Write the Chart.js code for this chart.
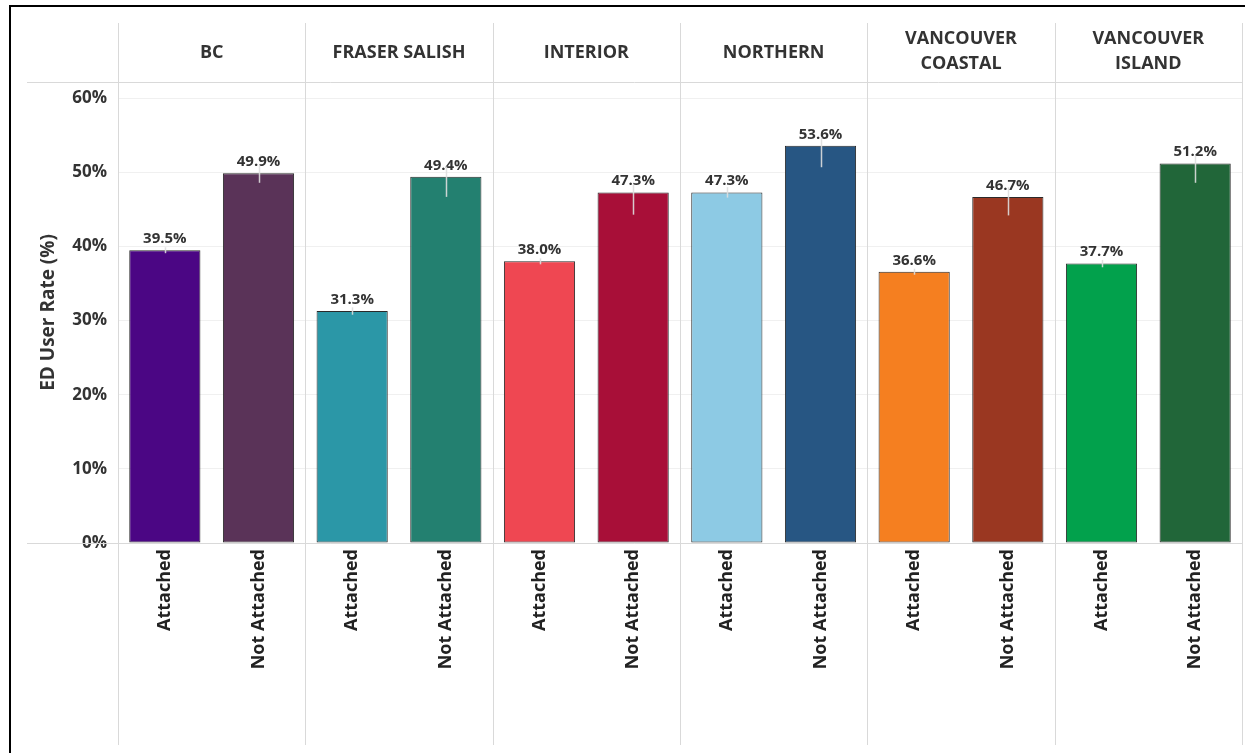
<!DOCTYPE html>
<html>
<head>
<meta charset="utf-8">
<script src="https://cdn.jsdelivr.net/npm/chart.js@4.4.1/dist/chart.umd.min.js"></script>
<style>
  html, body { margin: 0; padding: 0; background: #ffffff; }
  #wrap { position: relative; width: 1245px; height: 753px; }
</style>
</head>
<body>
<div id="wrap"><canvas id="chart"></canvas></div>
<script>
// Health authority panels (header lines) and attachment status within each panel
const regions = [['BC'], ['FRASER SALISH'], ['INTERIOR'], ['NORTHERN'], ['VANCOUVER', 'COASTAL'], ['VANCOUVER', 'ISLAND']];
const statuses = ['Attached', 'Not Attached'];

// ED user rate (%) by region
const attachedRate    = [39.5, 31.3, 38.0, 47.3, 36.6, 37.7];
const notAttachedRate = [49.9, 49.4, 47.3, 53.6, 46.7, 51.2];

// Confidence interval bounds (%)
const attachedLow     = [39.1, 30.8, 37.6, 46.6, 36.2, 37.2];
const attachedHigh    = [39.9, 31.8, 38.4, 48.0, 37.0, 38.2];
const notAttachedLow  = [48.6, 46.7, 44.3, 50.7, 44.2, 48.6];
const notAttachedHigh = [51.0, 50.8, 48.4, 54.8, 48.0, 52.3];

// Bar fills per region
const attachedColors    = ['#4b0684', '#2b97a7', '#ef4752', '#8dcae4', '#f57f20', '#02a14c'];
const notAttachedColors = ['#5a3358', '#238070', '#a80f38', '#275683', '#9a3721', '#216639'];

const yTicks = [0, 10, 20, 30, 40, 50, 60];

// Interleave the two statuses per region for the category axis
const labels = [], values = [], lows = [], highs = [], colors = [];
regions.forEach((r, i) => {
  labels.push(statuses[0], statuses[1]);
  values.push(attachedRate[i], notAttachedRate[i]);
  lows.push(attachedLow[i], notAttachedLow[i]);
  highs.push(attachedHigh[i], notAttachedHigh[i]);
  colors.push(attachedColors[i], notAttachedColors[i]);
});

const TEXT = '#333333';
const FONT = "'Open Sans', 'Noto Sans', sans-serif";

// Panel separators, header strip and rules
const panelDecor = {
  id: 'panelDecor',
  beforeDatasetsDraw(chart) {
    const { ctx, chartArea: a, scales: { x } } = chart;
    const catW = x.getPixelForValue(1) - x.getPixelForValue(0);
    const edge = g => x.getPixelForValue(g * 2) - catW / 2;
    ctx.save();
    ctx.strokeStyle = '#d9d9d9';
    ctx.lineWidth = 1;
    [a.top, a.bottom].forEach(y => {
      ctx.beginPath();
      ctx.moveTo(27, Math.round(y) + 0.5);
      ctx.lineTo(a.right, Math.round(y) + 0.5);
      ctx.stroke();
    });
    for (let g = 0; g <= regions.length; g++) {
      const px = Math.round(edge(g)) + 0.5;
      ctx.beginPath();
      ctx.moveTo(px, 23);
      ctx.lineTo(px, 745);
      ctx.stroke();
    }
    ctx.fillStyle = TEXT;
    ctx.font = "bold 18px " + FONT;
    ctx.textAlign = 'center';
    ctx.textBaseline = 'middle';
    regions.forEach((lines, g) => {
      const cx = (edge(g) + edge(g + 1)) / 2;
      if (lines.length === 1) {
        ctx.fillText(lines[0], cx, 53);
      } else {
        ctx.fillText(lines[0], cx, 39);
        ctx.fillText(lines[1], cx, 64);
      }
    });
    ctx.restore();
  },
  afterDatasetsDraw(chart) {
    const { ctx, scales: { x, y } } = chart;
    ctx.save();
    ctx.fillStyle = TEXT;
    ctx.font = "bold 15px " + FONT;
    ctx.textAlign = 'center';
    ctx.textBaseline = 'bottom';
    values.forEach((v, i) => {
      ctx.fillText(v.toFixed(1) + '%', x.getPixelForValue(i), y.getPixelForValue(v) - 4);
    });
    ctx.strokeStyle = 'rgba(222,222,222,0.9)';
    ctx.lineWidth = 1.5;
    values.forEach((v, i) => {
      const px = Math.round(x.getPixelForValue(i)) + 0.5;
      ctx.beginPath();
      ctx.moveTo(px, y.getPixelForValue(highs[i]));
      ctx.lineTo(px, y.getPixelForValue(lows[i]));
      ctx.stroke();
    });
    ctx.restore();
  },
  afterDraw(chart) {
    const { ctx } = chart;
    ctx.save();
    ctx.fillStyle = '#000000';
    ctx.fillRect(9, 5, 1236, 2);
    ctx.fillRect(9, 5, 2, 748);
    ctx.restore();
  }
};

new Chart(document.getElementById('chart'), {
  type: 'bar',
  data: {
    labels: labels,
    datasets: [{
      data: values,
      backgroundColor: colors,
      borderColor: '#2a2a2a',
      borderWidth: 1,
      borderSkipped: false,
      barPercentage: 0.76,
      categoryPercentage: 1
    }]
  },
  options: {
    responsive: true,
    maintainAspectRatio: false,
    animation: false,
    layout: { padding: { top: 82, right: 3, bottom: 0, left: 0 } },
    plugins: { legend: { display: false }, tooltip: { enabled: false } },
    scales: {
      x: {
        offset: true,
        grid: { display: false, drawTicks: false },
        border: { display: false },
        ticks: {
          autoSkip: false,
          maxRotation: 90,
          minRotation: 90,
          padding: 6,
          color: '#222222',
          font: { family: FONT, size: 18, weight: 'bold' }
        },
        afterFit(s) { s.height = 210; }
      },
      y: {
        min: 0,
        max: 62.2,
        grid: { color: '#f0f0f0', drawTicks: false },
        border: { display: false },
        ticks: {
          padding: 11,
          color: TEXT,
          font: { family: FONT, size: 17, weight: 'bold' },
          callback: v => v + '%'
        },
        afterBuildTicks(s) { s.ticks = yTicks.map(v => ({ value: v })); },
        title: {
          display: true,
          text: 'ED User Rate (%)',
          color: TEXT,
          font: { family: FONT, size: 19, weight: 'bold' },
          padding: { top: 37, bottom: 0 }
        },
        afterFit(s) { s.width = 118; }
      }
    }
  },
  plugins: [panelDecor]
});
</script>
</body>
</html>
